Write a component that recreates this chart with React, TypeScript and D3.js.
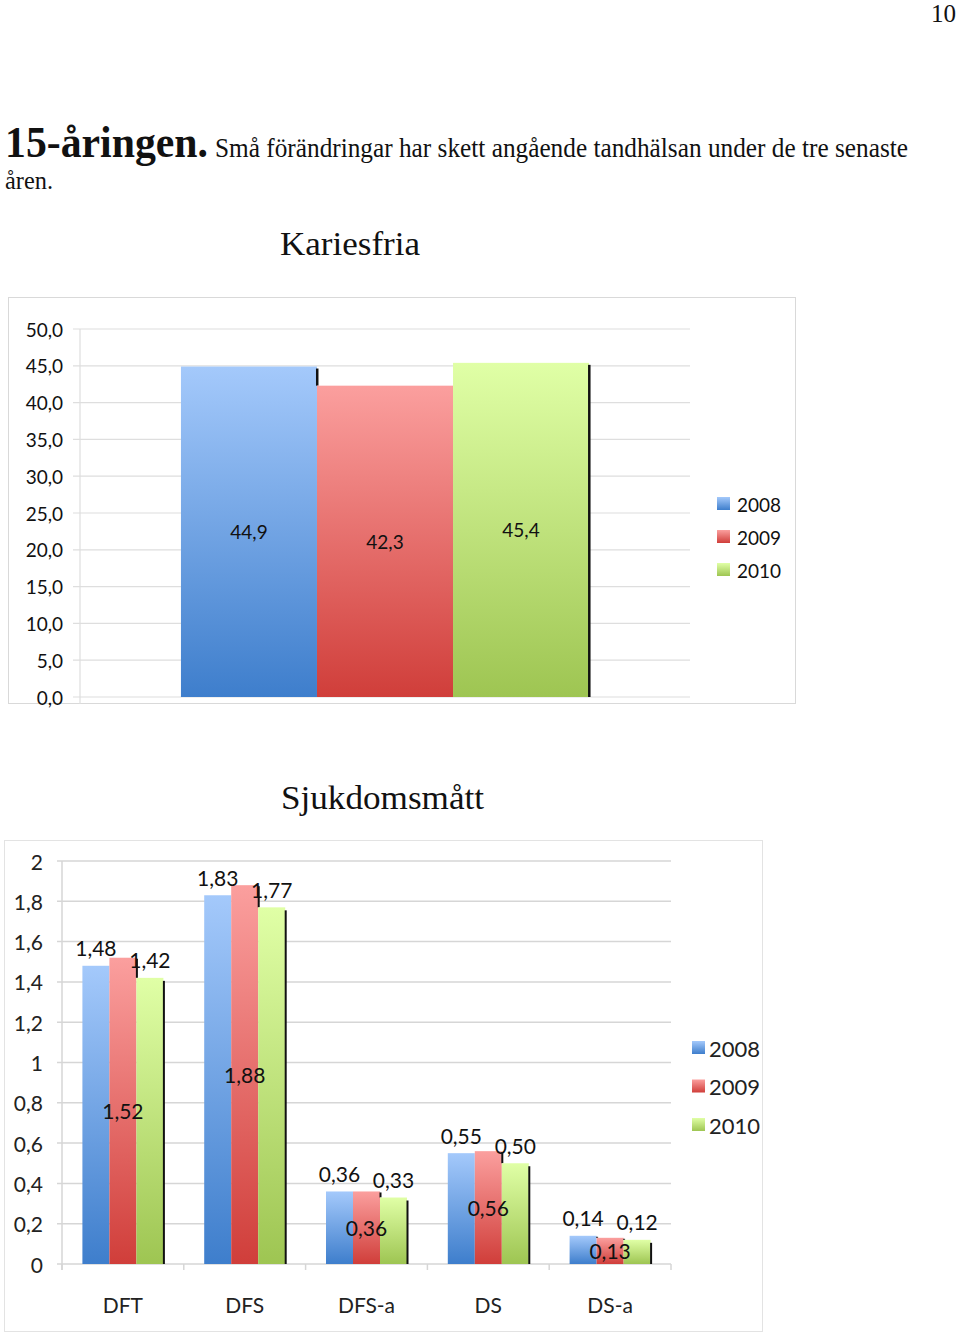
import React from "react";
import * as d3 from "d3";

// ---------- data ----------
const years = ["2008", "2009", "2010"];

const kariesCategory = ["Kariesfria"];
const kariesValues = [44.9, 42.3, 45.4];
const kariesTicks = [0, 5, 10, 15, 20, 25, 30, 35, 40, 45, 50];

const sjukCategories = ["DFT", "DFS", "DFS-a", "DS", "DS-a"];
const sjuk2008 = [1.48, 1.83, 0.36, 0.55, 0.14];
const sjuk2009 = [1.52, 1.88, 0.36, 0.56, 0.13];
const sjuk2010 = [1.42, 1.77, 0.33, 0.5, 0.12];
const sjukTicks = [0, 0.2, 0.4, 0.6, 0.8, 1, 1.2, 1.4, 1.6, 1.8, 2];

const gradStops = [
  ["#a4c9fb", "#3e7ecc"],
  ["#fb9f9e", "#d03e3a"],
  ["#e0ffa6", "#9ec552"],
];

const FONT = "Lato, 'Open Sans', sans-serif";
const SERIF = "'Liberation Serif', 'Times New Roman', serif";
const comma = (s: string) => s.replace(".", ",");

function Defs() {
  return (
    <defs>
      {gradStops.map((g, i) => (
        <linearGradient key={i} id={`grad${i}`} x1="0" y1="0" x2="0" y2="1">
          <stop offset="0%" stopColor={g[0]} />
          <stop offset="100%" stopColor={g[1]} />
        </linearGradient>
      ))}
    </defs>
  );
}

function KariesChart() {
  const x = d3.scaleBand().domain(kariesCategory).range([80, 690]).paddingInner(0.331).paddingOuter(0.1655);
  const xs = d3.scaleBand().domain(years).range([0, x.bandwidth()]);
  const y = d3.scaleLinear().domain([0, 50]).range([697, 329]);
  const fmt = d3.format(".1f");
  const x0 = x(kariesCategory[0])!;
  return (
    <g>
      <rect x={8.5} y={297.5} width={787} height={406} fill="#fff" stroke="#d9d9d9" />
      {kariesTicks.map((t) => (
        <g key={t}>
          <line x1={73} x2={690} y1={y(t)} y2={y(t)} stroke="#dedede" strokeWidth={1.2} />
          <text x={63} y={y(t)} textAnchor="end" dominantBaseline="central" fontFamily={FONT} fontSize={19} fill="#111">
            {comma(fmt(t))}
          </text>
        </g>
      ))}
      <line x1={80} x2={80} y1={329} y2={704} stroke="#dedede" strokeWidth={1.2} />
      {kariesValues.map((v, i) => {
        const bx = x0 + xs(years[i])!;
        const bw = xs.bandwidth();
        const top = y(v);
        const next = kariesValues[i + 1];
        let shadow: [number, number] | null = null;
        if (next === undefined) shadow = [top + 2, y(0)];
        else if (next < v) shadow = [top + 2, y(next)];
        return (
          <g key={i}>
            <rect x={bx} y={top} width={bw} height={y(0) - top} fill={`url(#grad${i})`} />
            {shadow && (
              <rect x={bx + bw - 1} y={shadow[0]} width={2.5} height={shadow[1] - shadow[0]} fill="#111" />
            )}
          </g>
        );
      })}
      {kariesValues.map((v, i) => {
        const bx = x0 + xs(years[i])! + xs.bandwidth() / 2;
        return (
          <text key={i} x={bx} y={(y(v) + y(0)) / 2} textAnchor="middle" dominantBaseline="central" fontFamily={FONT} fontSize={19} fill="#111">
            {comma(fmt(v))}
          </text>
        );
      })}
      {years.map((yr, i) => (
        <g key={yr}>
          <rect x={717} y={497 + i * 33} width={13} height={13} fill={`url(#grad${i})`} />
          <text x={737} y={504 + i * 33} dominantBaseline="central" fontFamily={FONT} fontSize={19} fill="#111">
            {yr}
          </text>
        </g>
      ))}
    </g>
  );
}

function SjukChart() {
  const series = [sjuk2008, sjuk2009, sjuk2010];
  const x = d3.scaleBand().domain(sjukCategories).range([62, 671]).paddingInner(0.335).paddingOuter(0.1675);
  const xs = d3.scaleBand().domain(years).range([0, x.bandwidth()]);
  const y = d3.scaleLinear().domain([0, 2]).range([1264, 861]);
  const f2 = d3.format(".2f");
  const tickFmt = (t: number) => comma(String(+t.toFixed(1)));
  const bounds = sjukCategories.map((c) => x(c)! - (x.step() - x.bandwidth()) / 2).concat([671]);
  return (
    <g>
      <rect x={4.5} y={840.5} width={758} height={491} fill="#fff" stroke="#e3e3e3" />
      {sjukTicks.map((t) => (
        <g key={t}>
          <line x1={57} x2={671} y1={y(t)} y2={y(t)} stroke="#d6d6d6" strokeWidth={1.5} />
          <text x={43} y={y(t)} textAnchor="end" dominantBaseline="central" fontFamily={FONT} fontSize={21} fill="#222">
            {tickFmt(t)}
          </text>
        </g>
      ))}
      <line x1={62} x2={62} y1={861} y2={1270} stroke="#d6d6d6" strokeWidth={1.5} />
      {bounds.map((b, i) => (
        <line key={i} x1={b} x2={b} y1={1264} y2={1270} stroke="#d6d6d6" strokeWidth={1.5} />
      ))}
      {sjukCategories.map((c, ci) => (
        <g key={c}>
          {series.map((s, si) => {
            const v = s[ci];
            const bx = x(c)! + xs(years[si])!;
            const bw = xs.bandwidth();
            const top = y(v);
            const nextS = series[si + 1];
            let shadow: [number, number] | null = null;
            if (!nextS) shadow = [top + 3, y(0)];
            else if (nextS[ci] < v) shadow = [top + 1, y(nextS[ci])];
            return (
              <g key={si}>
                <rect x={bx} y={top} width={bw} height={y(0) - top} fill={`url(#grad${si})`} />
                {shadow && (
                  <rect x={bx + bw - 0.5} y={shadow[0]} width={2} height={shadow[1] - shadow[0]} fill="#111" />
                )}
              </g>
            );
          })}
          <text x={x(c)! + x.bandwidth() / 2} y={1304} textAnchor="middle" dominantBaseline="central" fontFamily={FONT} fontSize={21} fill="#222">
            {c}
          </text>
        </g>
      ))}
      {sjukCategories.map((c, ci) =>
        series.map((s, si) => {
          const v = s[ci];
          const cx = x(c)! + xs(years[si])! + xs.bandwidth() / 2;
          const cy = si === 1 ? (y(v) + y(0)) / 2 : y(v) - 18;
          return (
            <text key={`${ci}-${si}`} x={cx} y={cy} textAnchor="middle" dominantBaseline="central" fontFamily={FONT} fontSize={21} fill="#111">
              {comma(f2(v))}
            </text>
          );
        })
      )}
      {years.map((yr, i) => (
        <g key={yr}>
          <rect x={692} y={1041 + i * 38.5} width={13} height={13} fill={`url(#grad${i})`} />
          <text x={709} y={1048 + i * 38.5} dominantBaseline="central" fontFamily={FONT} fontSize={22} fill="#222">
            {yr}
          </text>
        </g>
      ))}
    </g>
  );
}

export default function App() {
  return (
    <svg width={960} height={1333} style={{ position: "absolute", left: 0, top: 0, background: "#fff" }}>
      <Defs />
      <rect x={0} y={0} width={960} height={1333} fill="#fff" />
      <text x={956} y={22} textAnchor="end" fontFamily={SERIF} fontSize={25} fill="#111">
        10
      </text>
      <text x={5} y={157} fontFamily={SERIF} fontWeight="bold" fontSize={44} textLength={203} lengthAdjust="spacingAndGlyphs" fill="#111">
        15-åringen.
      </text>
      <text x={215} y={157} fontFamily={SERIF} fontSize={27} textLength={693} lengthAdjust="spacingAndGlyphs" fill="#111">
        Små förändringar har skett angående tandhälsan under de tre senaste
      </text>
      <text x={5} y={189} fontFamily={SERIF} fontSize={26} textLength={48} lengthAdjust="spacingAndGlyphs" fill="#111">
        åren.
      </text>
      <text x={280} y={255} fontFamily={SERIF} fontSize={33} textLength={140} lengthAdjust="spacingAndGlyphs" fill="#111">
        Kariesfria
      </text>
      <text x={281} y={809} fontFamily={SERIF} fontSize={34} textLength={203} lengthAdjust="spacingAndGlyphs" fill="#111">
        Sjukdomsmått
      </text>
      <KariesChart />
      <SjukChart />
    </svg>
  );
}
